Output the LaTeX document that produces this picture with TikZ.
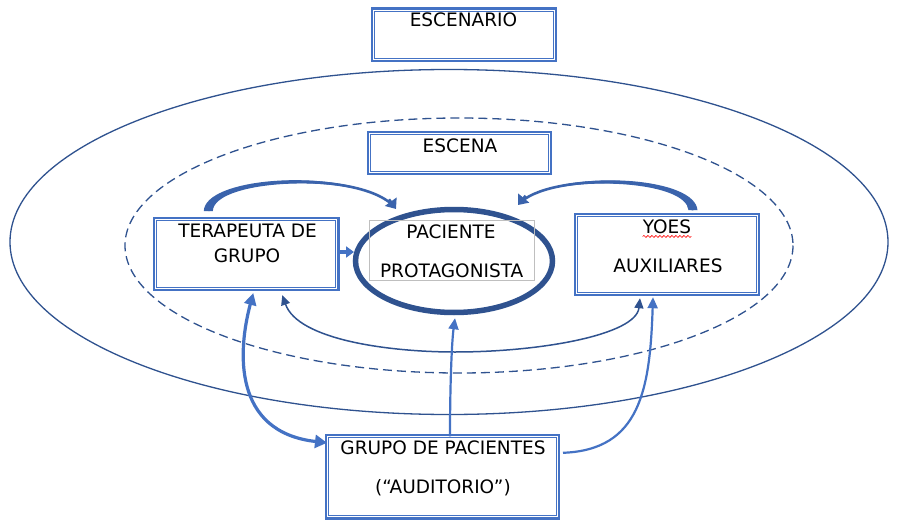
\documentclass[tikz,border=0pt]{standalone}
\usepackage{fontspec}
\setmainfont{DejaVu Sans}
\usetikzlibrary{arrows.meta,decorations.pathmorphing,shapes.geometric}
\definecolor{bblue}{HTML}{4472C4}
\definecolor{dblue}{HTML}{2F528F}
\definecolor{mblue}{HTML}{3A63AC}
\definecolor{lgray}{HTML}{BFBFBF}
\begin{document}
\begin{tikzpicture}[x=1pt,y=-1pt,
  box/.style={preaction={draw=bblue, line width=5.4pt}, fill=white, draw=bblue, double=white, line width=1pt, double distance=1pt, rectangle, inner sep=0pt},
  txt/.style={font=\fontsize{18.5}{22}\selectfont, inner sep=0pt, anchor=base},
  curvedline/.style={draw=mblue, line width=2.6pt},
  curvedtip/.style={draw=mblue, line width=2.6pt, -{Triangle[width=14pt,length=9pt]}},
  taper/.style={fill=mblue},
  thinarrow/.style={draw=dblue, line width=1.5pt, {Triangle[width=9pt,length=10pt]}-{Triangle[width=9pt,length=10pt]}},
  linkarrow/.style={draw=bblue, line width=2.2pt, -{Triangle[width=10pt,length=11pt]}}
]
\useasboundingbox (0,0) rectangle (898,530);
\fill[white] (0,0) rectangle (898,530);

% scene ellipses
\draw[dblue, line width=1.3pt] (449,242) ellipse [x radius=439, y radius=172.5];
\draw[dblue, line width=1.3pt, dash pattern=on 9pt off 5pt] (459,245.5) ellipse [x radius=334, y radius=127.5];

% boxes
\node[box, minimum width=181, minimum height=49] (escenario) at (463.7,34.5) {};
\node[txt] (escenarioT) at (463.5,27) {ESCENARIO};

\node[box, minimum width=180, minimum height=39] (escena) at (459.2,153) {};
\node[txt] (escenaT) at (460,152) {ESCENA};

\node[box, minimum width=181, minimum height=69] (ter) at (246.3,254) {};
\node[txt] (terT1) at (247.5,237) {TERAPEUTA DE};
\node[txt] (terT2) at (247,262) {GRUPO};

\node[draw=dblue, line width=5.5pt, ellipse, minimum width=197, minimum height=103, inner sep=0pt] (pac) at (454,261) {};
\node[draw=lgray, line width=0.6pt, rectangle, minimum width=165, minimum height=60, inner sep=0pt] (pacbox) at (451.5,250) {};
\node[txt] (pacT1) at (451,238) {PACIENTE};
\node[txt] (pacT2) at (451.7,277) {PROTAGONISTA};

\node[box, minimum width=181, minimum height=78] (yoes) at (667,254.7) {};
\node[txt] (yoesT1) at (667,233) {YOES};
\node[txt] (yoesT2) at (668,272) {AUXILIARES};
\draw[red, line width=0.6pt, decorate, decoration={snake, amplitude=1pt, segment length=4pt}]
  ([shift={(0,3)}]yoesT1.south west) -- ([shift={(0,3)}]yoesT1.south east);

\node[box, minimum width=230, minimum height=80] (grp) at (442.5,476.8) {};
\node[txt] (grpT1) at (443,454) {GRUPO DE PACIENTES};
\node[txt] (grpT2) at (443,493) {(“AUDITORIO”)};

% connector end points
\coordinate (a1s) at ([shift={(-38,-8)}]ter.north);
\coordinate (a1e) at ([shift={(-58,-52)}]pac.center);
\coordinate (a1m) at (375.6,194.4);
\coordinate (a1n) at (392.0,204.5);
\coordinate (a1b) at (389.0,199.3);
\coordinate (a2s) at ([shift={(26,-5)}]yoes.north);
\coordinate (a2e) at ([shift={(64,-56)}]pac.center);
\coordinate (a2m) at (537.2,192.6);
\coordinate (a2n) at (521.8,201.2);
\coordinate (a2b) at (525.6,195.7);

% tapered curved arrows: TERAPEUTA -> PACIENTE
\fill[taper] ([shift={(-4.5,0)}]a1s) .. controls (205.2,178.4) and (324.1,169.7) .. (a1m)
  .. controls (324.1,174.7) and (214.2,182.4) .. ([shift={(4.5,0)}]a1s) -- cycle;
\draw[curvedline] (a1s) .. controls (209.9,176.4) and (355.6,170.5) .. (a1n);
\draw[curvedtip] (a1b) -- (a1e);

% YOES -> PACIENTE
\fill[taper] ([shift={(4.5,0)}]a2s) .. controls (694.9,178.4) and (585.3,171.1) .. (a2m)
  .. controls (585.3,176.1) and (686,182.4) .. ([shift={(-4.5,0)}]a2s) -- cycle;
\draw[curvedline] (a2s) .. controls (690.1,176.4) and (556.4,172.3) .. (a2n);
\draw[curvedtip] (a2b) -- (a2e);

\draw[draw=bblue, line width=4pt, -{Triangle[width=11pt,length=8pt]}] ([shift={(2,-2)}]ter.east) -- ([shift={(-100,-9)}]pac.center);

\draw[thinarrow] ([shift={(36,6)}]ter.south) .. controls (298,340) and (390,352) .. (455,352)
  .. controls (540,352) and (636,335) .. ([shift={(-27,4)}]yoes.south);

\draw[draw=bblue, line width=3.2pt, {Triangle[width=12pt,length=12pt]}-{Triangle[width=13pt,length=12pt]}]
  ([shift={(7,4)}]ter.south) .. controls (238,350) and (232,432) .. ([shift={(0,-34)}]grp.west);

\draw[linkarrow] ([shift={(7.5,0)}]grp.north) .. controls (450,380) and (452,340) .. ([shift={(1,3)}]pac.south);

\draw[linkarrow] ([shift={(5,-24)}]grp.east) .. controls (640,450) and (650,390) .. ([shift={(-14,3)}]yoes.south);
\end{tikzpicture}
\end{document}
